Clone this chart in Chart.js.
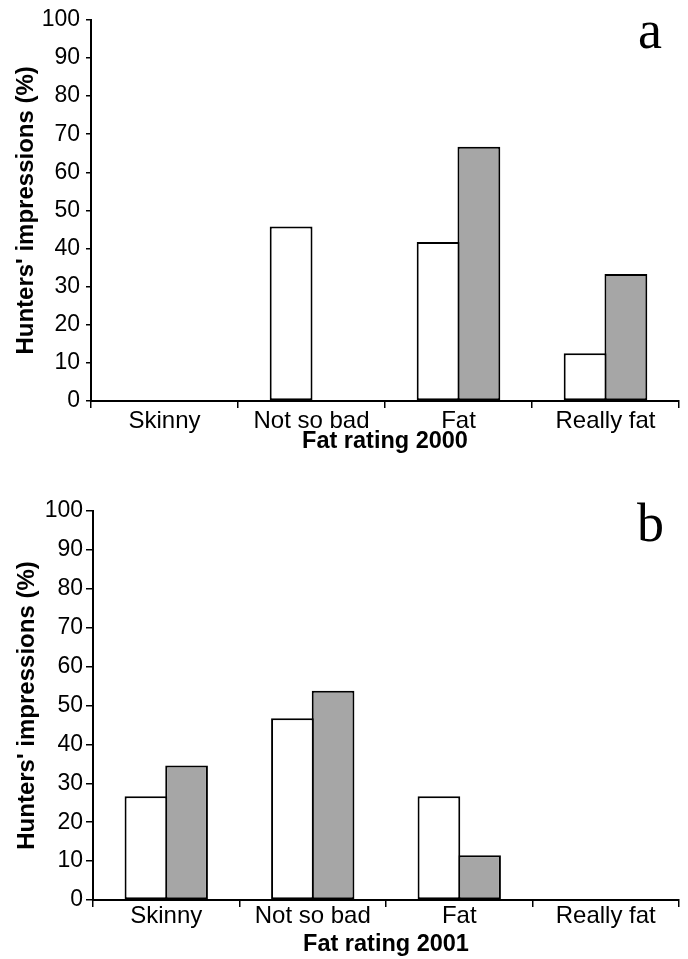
<!DOCTYPE html>
<html>
<head>
<meta charset="utf-8">
<script src="https://cdn.jsdelivr.net/npm/chart.js@4.4.0/dist/chart.umd.min.js"></script>
<style>
body{margin:0;background:#fff;width:688px;height:959px;overflow:hidden;position:relative}
.panel{position:absolute;left:0;width:688px}
.tag{position:absolute;font-family:"Liberation Serif","Times New Roman",serif;font-size:54px;color:#000;line-height:1}
</style>
</head>
<body>
<div class="panel" style="top:0;height:470px"><canvas id="chartA" width="688" height="470"></canvas></div>
<div class="panel" style="top:490px;height:469px"><canvas id="chartB" width="688" height="469"></canvas></div>
<div class="tag" style="left:638px;top:3px">a</div>
<div class="tag" style="left:637px;top:496px">b</div>
<script>
// categories (x axis)
var categories = ['Skinny', 'Not so bad', 'Fat', 'Really fat'];
// 2000 panel, percent
var white2000 = [0, 45.8, 41.7, 12.5];
var grey2000 = [0, 0, 66.7, 33.3];
// 2001 panel, percent
var white2001 = [26.7, 46.7, 26.7, 0];
var grey2001 = [34.6, 53.8, 11.5, 0];
// y axis
var yMin = 0, yMax = 100, yStep = 10;
var yTitle = "Hunters' impressions (%)";

var sans = '"Liberation Sans", Arial, sans-serif';

function graficar(id, xTitle, white, grey, p) {
    var ctx = document.getElementById(id).getContext('2d');
    return new Chart(ctx, {
        type: 'bar',
        data: {
            labels: categories,
            datasets: [{
                label: 'white',
                data: white,
                backgroundColor: '#ffffff',
                borderColor: '#000000',
                borderWidth: 2,
                borderSkipped: false
            }, {
                label: 'grey',
                data: grey,
                backgroundColor: '#a6a6a6',
                borderColor: '#000000',
                borderWidth: 2,
                borderSkipped: false
            }]
        },
        options: {
            responsive: false,
            animation: false,
            events: [],
            layout: { padding: { top: p.top, right: 9, bottom: 0, left: 0 } },
            plugins: { legend: { display: false }, tooltip: { enabled: false } },
            // bars slightly wider than their slot so neighbours share one border
            datasets: { bar: { categoryPercentage: 0.555, barPercentage: 1.05 } },
            scales: {
                x: {
                    grid: { display: true, drawOnChartArea: false, offset: true, color: '#000', lineWidth: 1.5, tickLength: p.xTick },
                    border: { display: true, color: '#000', width: 2 },
                    ticks: { color: '#000', font: { family: sans, size: 24 }, padding: p.xPad, maxRotation: 0 },
                    title: { display: true, text: xTitle, color: '#000', font: { family: sans, size: 23.5, weight: 'bold' }, padding: { top: 0, bottom: p.xTitlePad } },
                    afterFit: function (s) { s.height = p.xHeight; }
                },
                y: {
                    min: yMin, max: yMax,
                    grid: { display: true, drawOnChartArea: false, color: '#000', lineWidth: 1.5, tickLength: p.yTick },
                    border: { display: true, color: '#000', width: 2 },
                    ticks: { stepSize: yStep, color: '#000', font: { family: sans, size: 23 }, padding: p.yPad },
                    title: { display: true, text: yTitle, color: '#000', font: { family: sans, size: 24, weight: 'bold' }, padding: { top: p.yTitlePad, bottom: 0 } },
                    afterFit: function (s) { s.width = p.yWidth; }
                }
            }
        }
    });
}

graficar('chartA', 'Fat rating 2000', white2000, grey2000,
    { top: 14, xHeight: 69, xTick: 7, xPad: -1, xTitlePad: 14, yWidth: 91, yTick: 5, yPad: 6, yTitlePad: 12 });
graficar('chartB', 'Fat rating 2001', white2001, grey2001,
    { top: 21, xHeight: 59, xTick: 7, xPad: -5, xTitlePad: 0, yWidth: 93, yTick: 7, yPad: 3, yTitlePad: 13 });
</script>
</body>
</html>
